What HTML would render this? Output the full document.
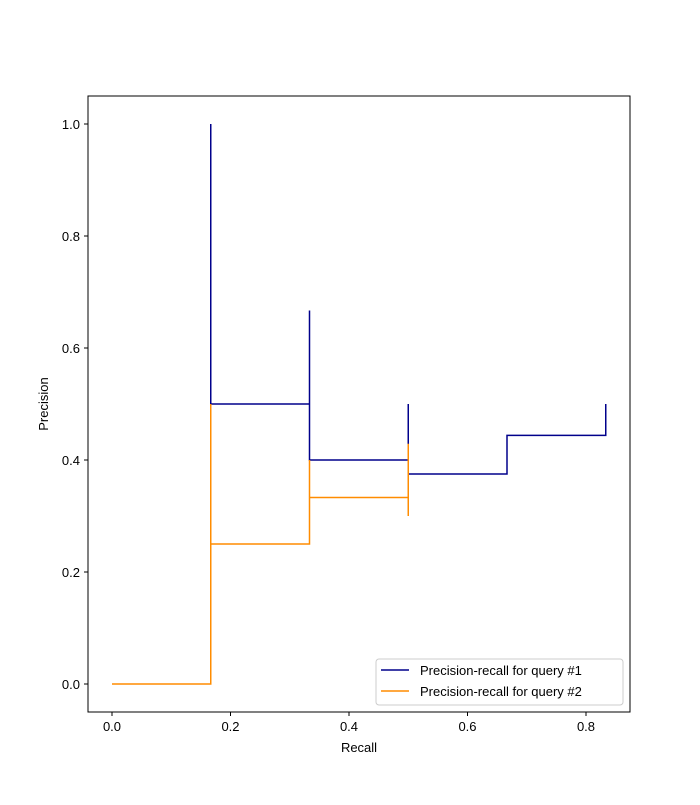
<!DOCTYPE html>
<html><head><meta charset="utf-8">
<style>
body{margin:0;background:#fff;}
svg text{font-family:"Liberation Sans","DejaVu Sans",sans-serif;font-size:13px;fill:#000;}
</style></head>
<body>
<svg id="chart" width="700" height="800" xmlns="http://www.w3.org/2000/svg">
<rect width="700" height="800" fill="#fff"/>
<g id="plot"></g>
<rect x="88" y="96" width="542" height="616" fill="none" stroke="#000" stroke-width="1"/>
<text x="359" y="752" text-anchor="middle">Recall</text>
<text x="48" y="404" text-anchor="middle" transform="rotate(-90 48 404)">Precision</text>
<g>
<rect x="376" y="659" width="247" height="46" rx="3" fill="#fff" stroke="#ccc"/>
<g>
<line x1="381" y1="670" x2="409" y2="670" stroke="#00008b" stroke-width="1.5"/>
<text x="420" y="675">Precision-recall for query #1</text></g>
<g>
<line x1="381" y1="691" x2="409" y2="691" stroke="#ff8c00" stroke-width="1.5"/>
<text x="420" y="696">Precision-recall for query #2</text></g>
</g>
</svg>
<script>
const xTicks=[0,0.2,0.4,0.6,0.8];
const yTicks=[0,0.2,0.4,0.6,0.8,1.0];
const recall1=[1/6,1/6,1/3,1/3,1/2,1/2,2/3,5/6];
const precision1=[1.0,0.5,0.667,0.4,0.5,0.375,0.444,0.5];
const recall2=[0,1/6,1/6,1/3,1/3,1/2,1/2];
const precision2=[0,0.5,0.25,0.4,0.333,0.429,0.3];
const NS="http://www.w3.org/2000/svg";
const sx=v=>112+v*592.5, sy=v=>684-v*560;
const g=document.getElementById('plot');
function mk(t,a){const e=document.createElementNS(NS,t);for(const k in a)e.setAttribute(k,a[k]);g.appendChild(e);return e;}
xTicks.forEach(t=>{
 const l=mk('line',{x1:sx(t),x2:sx(t),y1:712,y2:716,stroke:'#000'});
 
 
 const tx=mk('text',{x:sx(t),y:731,'text-anchor':'middle'});tx.textContent=t.toFixed(1);
 
 
});
yTicks.forEach(t=>{
 const l=mk('line',{x1:84,x2:88,y1:sy(t),y2:sy(t),stroke:'#000'});
 
 
 const tx=mk('text',{x:80,y:sy(t)+5,'text-anchor':'end'});tx.textContent=t.toFixed(1);
 
 
});
function stepPath(xs,ys){let d='M'+sx(xs[0])+','+sy(ys[0]);
 for(let i=1;i<xs.length;i++){d+=' L'+sx(xs[i])+','+sy(ys[i-1])+' L'+sx(xs[i])+','+sy(ys[i]);}return d;}
const p1=mk('path',{d:stepPath(recall1,precision1),fill:'none',stroke:'#00008b','stroke-width':1.5});


const p2=mk('path',{d:stepPath(recall2,precision2),fill:'none',stroke:'#ff8c00','stroke-width':1.5});


</script>
</body></html>
